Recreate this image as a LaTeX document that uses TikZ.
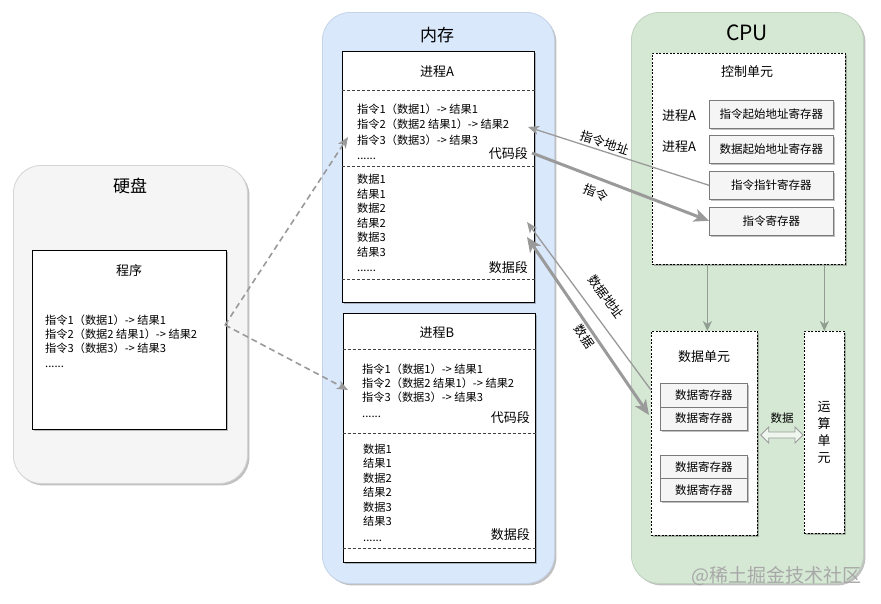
\documentclass[tikz,border=0pt]{standalone}
\usepackage{fontspec}
\setmainfont{Noto Sans CJK SC}
\usetikzlibrary{arrows.meta,shadows,calc}
\definecolor{diskfill}{HTML}{F5F5F5}
\definecolor{diskdraw}{HTML}{D4D4D4}
\definecolor{memfill}{HTML}{DAE8FC}
\definecolor{memdraw}{HTML}{C5D3E8}
\definecolor{cpufill}{HTML}{D5E8D4}
\definecolor{cpudraw}{HTML}{C0D2BF}
\definecolor{arrgray}{HTML}{9A9A9A}
\definecolor{cpuarr}{HTML}{929D91}
\definecolor{regfill}{HTML}{F5F5F5}
\definecolor{regdraw}{HTML}{7A7A7A}
\definecolor{wmark}{HTML}{A8A8A8}
\begin{document}
\begin{tikzpicture}[x=1pt,y=-1pt,
  shd/.style={drop shadow={shadow xshift=2pt,shadow yshift=-2pt,opacity=0.35,fill=black!70}},
  container/.style={rectangle,rounded corners=28pt,line width=0.8pt,anchor=north west,inner sep=0pt,shd},
  procbox/.style={rectangle,draw=black,fill=white,line width=0.8pt,anchor=north west,inner sep=0pt,shd},
  dashbox/.style={rectangle,draw=black,fill=white,line width=0.7pt,dash pattern=on 2pt off 1.5pt,anchor=north west,inner sep=0pt,shd},
  regbox/.style={rectangle,draw=regdraw,fill=regfill,line width=0.6pt,anchor=north west,inner sep=0pt,font=\fontsize{11.5}{12}\selectfont,shd},
  ttl/.style={font=\fontsize{17}{18}\selectfont,inner sep=0pt},
  subttl/.style={font=\fontsize{13}{14}\selectfont,inner sep=0pt},
  ln/.style={anchor=west,inner sep=0pt,font=\fontsize{11.2}{12}\selectfont,text height=8pt,text depth=2pt},
  seg/.style={anchor=east,inner sep=0pt,font=\fontsize{13}{14}\selectfont},
  sep/.style={draw=black!75,line width=0.6pt,dash pattern=on 3pt off 2pt},
  thinarr/.style={draw=arrgray,line width=1.3pt,-{Stealth[length=11pt,width=9pt,inset=3pt]}},
  thickarr/.style={draw=arrgray,line width=3pt,-{Stealth[length=15pt,width=13pt,inset=4pt]}},
  dasharr/.style={draw=arrgray,line width=1.6pt,dash pattern=on 6pt off 4pt,-{Stealth[length=11pt,width=9pt,inset=3pt]}},
  cpuarrow/.style={draw=cpuarr,line width=1.5pt,-{Stealth[length=10pt,width=9pt,inset=3pt]}},
  albl/.style={font=\fontsize{12.5}{13}\selectfont,inner sep=2pt}
]
\useasboundingbox (0,0) rectangle (881,603);
\fill[white] (0,0) rectangle (881,603);

% ---------------- Disk ----------------
\node[container,fill=diskfill,draw=diskdraw,minimum width=234,minimum height=318] (disk) at (13,165) {};
\node[ttl] (disktitle) at (130,186) {硬盘};
\node[procbox,minimum width=194,minimum height=179] (prog) at (32,250) {};
\node[subttl] (progtitle) at (129,271) {程序};
\node[ln] (p1) at (45,321) {指令1（数据1）-> 结果1};
\node[ln] (p2) at (45,335) {指令2（数据2 结果1）-> 结果2};
\node[ln] (p3) at (45,349) {指令3（数据3）-> 结果3};
\node[ln] (p4) at (45,364) {......};

% ---------------- Memory ----------------
\node[container,fill=memfill,draw=memdraw,minimum width=232,minimum height=571] (mem) at (322,12) {};
\node[ttl] (memtitle) at (437,35) {内存};

% Process A
\node[procbox,minimum width=192,minimum height=251] (pa) at (342,51) {};
\node[subttl] (patitle) at (437,72) {进程\textit{A}};
\draw[sep] (pa.west |- 0,90.5) -- (pa.east |- 0,90.5);
\draw[sep] (pa.west |- 0,166) -- (pa.east |- 0,166);
\draw[sep] (pa.west |- 0,279) -- (pa.east |- 0,279);
\node[ln] (a1) at (357,110) {指令1（数据1）-> 结果1};
\node[ln] (a2) at (357,125.5) {指令2（数据2 结果1）-> 结果2};
\node[ln] (a3) at (357,141) {指令3（数据3）-> 结果3};
\node[ln] (a4) at (357,156) {......};
\node[seg] (acode) at (528,154) {代码段};
\node[ln] (a5) at (357,180.5) {数据1};
\node[ln] (a6) at (357,195) {结果1};
\node[ln] (a7) at (357,209.5) {数据2};
\node[ln] (a8) at (357,224) {结果2};
\node[ln] (a9) at (357,238.5) {数据3};
\node[ln] (a10) at (357,253) {结果3};
\node[ln] (a11) at (357,268) {......};
\node[seg] (adata) at (528,268) {数据段};

% Process B
\node[procbox,minimum width=192.5,minimum height=249.5] (pb) at (342.5,312.5) {};
\node[subttl] (pbtitle) at (437,333) {进程B};
\draw[sep] (pb.west |- 0,349) -- (pb.east |- 0,349);
\draw[sep] (pb.west |- 0,433) -- (pb.east |- 0,433);
\draw[sep] (pb.west |- 0,548) -- (pb.east |- 0,548);
\node[ln] (b1) at (362,370) {指令1（数据1）-> 结果1};
\node[ln] (b2) at (362,384) {指令2（数据2 结果1）-> 结果2};
\node[ln] (b3) at (362,398.5) {指令3（数据3）-> 结果3};
\node[ln] (b4) at (362,414) {......};
\node[seg] (bcode) at (530,418) {代码段};
\node[ln] (b5) at (363,450) {数据1};
\node[ln] (b6) at (363,464.5) {结果1};
\node[ln] (b7) at (363,479) {数据2};
\node[ln] (b8) at (363,493.5) {结果2};
\node[ln] (b9) at (363,508) {数据3};
\node[ln] (b10) at (363,522.5) {结果3};
\node[ln] (b11) at (363,538) {......};
\node[seg] (bdata) at (530,535) {数据段};

% ---------------- CPU ----------------
\node[container,fill=cpufill,draw=cpudraw,minimum width=232,minimum height=571] (cpu) at (631,12) {};
\node[font=\fontsize{21}{22}\selectfont,inner sep=0pt] (cputitle) at (747,33) {CPU};

\node[dashbox,minimum width=193,minimum height=211] (ctrl) at (652,53) {};
\node[subttl] (ctrltitle) at (747,72) {控制单元};
\node[regbox,minimum width=124,minimum height=28] (r1) at (709,100) {指令起始地址寄存器};
\node[regbox,minimum width=124,minimum height=28] (r2) at (709,135) {数据起始地址寄存器};
\node[regbox,minimum width=124,minimum height=28] (r3) at (709,171) {指令指针寄存器};
\node[regbox,minimum width=124,minimum height=28] (r4) at (709,206.5) {指令寄存器};
\node[subttl] (pla) at (679,116) {进程\textit{A}};
\node[subttl] (plb) at (679,147) {进程\textit{A}};

\node[dashbox,minimum width=106,minimum height=204] (du) at (651,331) {};
\node[subttl] (dutitle) at (704,357) {数据单元};
\node[regbox,minimum width=87,minimum height=23.5] (d1) at (660,383) {数据寄存器};
\node[regbox,minimum width=87,minimum height=23.5] (d2) at (660,406.5) {数据寄存器};
\node[regbox,minimum width=87,minimum height=23] (d3) at (660,455) {数据寄存器};
\node[regbox,minimum width=87,minimum height=23] (d4) at (660,478) {数据寄存器};

\node[dashbox,minimum width=40,minimum height=202] (alu) at (804,331) {};
\node[subttl,align=center,font=\fontsize{13}{17}\selectfont] (alutext) at (824,432) {运\\算\\单\\元};

% control -> data unit / ALU
\draw[cpuarrow] ([xshift=3pt]du.north |- ctrl.south) -- ([xshift=3pt]du.north);
\draw[cpuarrow] (alu.north |- ctrl.south) -- (alu.north);

% block double arrow between data unit and ALU
\coordinate (dl) at ([xshift=3pt]du.east |- 0,435);
\coordinate (dr) at ([xshift=-1pt]alu.west |- 0,435);
\filldraw[draw=arrgray,fill=cpufill!40!white,line width=0.8pt]
  (dl) -- ++(8,-8) -- ++(0,5) -- ($(dr)+(-8,-3)$) -- ++(0,-5) -- (dr) -- ++(-8,8) -- ++(0,-5)
  -- ($(dl)+(8,3)$) -- ++(0,5) -- cycle;
\node[font=\fontsize{11.5}{12}\selectfont,inner sep=0pt] (dlbl) at (782,418) {数据};

% ---------------- Memory <-> CPU arrows ----------------
\coordinate (iaddr) at (528,127);
\coordinate (icode) at (532,153);
\coordinate (daddr) at (527,222);
\coordinate (ddata) at (527,237);
\coordinate (duaddr) at (651,390);
\coordinate (dudata) at (649,415);

\draw[thinarr] (r3.west) -- node[albl,sloped,above,pos=0.59] (l1) {指令地址} (iaddr);
\draw[thickarr] (icode) -- node[albl,sloped,below=5pt,pos=0.39] (l2) {指令} (r4.west);
\draw[thinarr] (duaddr) -- (daddr);
\node[albl,rotate=-53.4] (l3) at (606,297) {数据地址};
\draw[thickarr,{Stealth[length=15pt,width=13pt,inset=4pt]}-{Stealth[length=15pt,width=13pt,inset=4pt]}] (ddata) -- node[albl,sloped,below,pos=0.53] (l4) {数据} (dudata);

% ---------------- Disk -> Memory (load) ----------------
\coordinate (ps) at (225,325);
\coordinate (pae) at (348,137);
\coordinate (pbe) at (348,390);
\draw[dasharr] (ps) -- (pae);
\draw[dasharr] (ps) -- (pbe);

% watermark
\node[font=\fontsize{19}{20}\selectfont,text=wmark,anchor=east,inner sep=0pt] (wm) at (862,576) {@稀土掘金技术社区};
\end{tikzpicture}
\end{document}
